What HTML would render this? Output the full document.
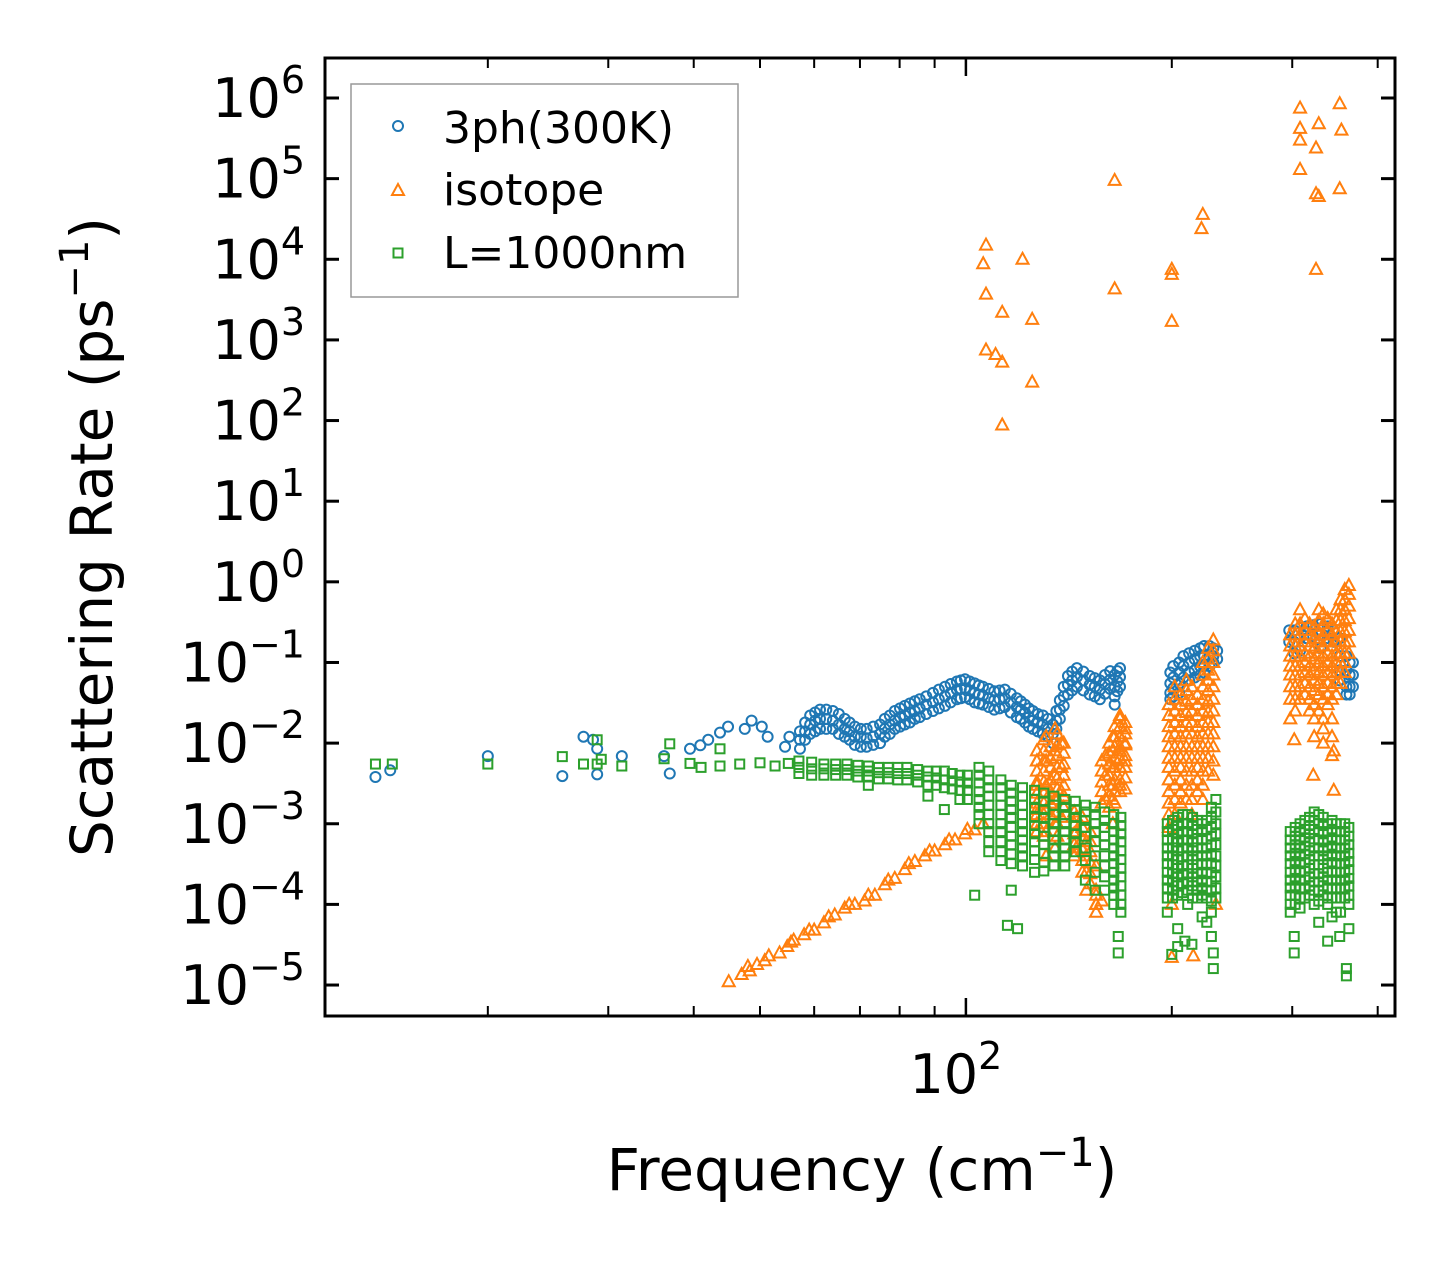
<!DOCTYPE html>
<html><head><meta charset="utf-8"><style>
html,body{margin:0;padding:0;background:#fff;}
svg text{font-family:"DejaVu Sans","Liberation Sans",sans-serif;fill:#000;}
</style></head><body>
<svg id="chart" width="1455" height="1265" viewBox="0 0 1455 1265" xmlns="http://www.w3.org/2000/svg">
<rect x="0" y="0" width="1455" height="1265" fill="#fff"/>
<g id="marks"></g>
<g id="axes"></g>
<text x="862" y="1190" font-size="58" text-anchor="middle">Frequency (cm<tspan font-size="40" dy="-24">−1</tspan><tspan dy="24">)</tspan></text>
<text transform="translate(112,537) rotate(-90)" font-size="58" text-anchor="middle">Scattering Rate (ps<tspan font-size="40" dy="-24">−1</tspan><tspan dy="24">)</tspan></text>
<g>
<rect x="351" y="84" width="387" height="213" fill="#fff" stroke="#999" stroke-width="1.5"/>
<circle cx="398" cy="126" r="5" fill="none" stroke="#1f77b4" stroke-width="2"/>
<text x="443" y="143" font-size="44">3ph(300K)</text>
<polygon points="398,184 404,195 392,195" fill="none" stroke="#ff7f0e" stroke-width="2"/>
<text x="443" y="205" font-size="44">isotope</text>
<rect x="393.5" y="248.5" width="9" height="9" fill="none" stroke="#2ca02c" stroke-width="2"/>
<text x="443" y="268" font-size="44">L=1000nm</text>
</g>
</svg>
<script>
// ---- data (frequency in cm^-1, rate in ps^-1) ----
const blueSparse = [[13.7,3.8e-3],[14.4,4.6e-3],[20,6.9e-3],[25.7,3.9e-3],[27.6,0.012],[28.5,0.011],[28.9,0.0085],[28.9,4.1e-3],[31.4,6.9e-3],[36.9,4.2e-3],[36.2,6.9e-3],[39.5,0.0085],[40.9,9.4e-3],[42,0.011],[43.7,0.0135],[44.9,0.016],[47.5,0.015],[48.6,0.019],[50.3,0.016],[51.3,0.012],[55.2,0.012],[54.4,0.009]];
const blueColumns = [
[57.2,[0.014,0.011,0.0085]],[59.2,[0.022,0.017,0.013]],[61.2,[0.026,0.02,0.015]],[63.9,[0.025,0.019,0.015]],
[66.5,[0.02,0.015,0.012]],[68.8,[0.016,0.012,0.0095]],[71.6,[0.015,0.0115,0.009]],[74.9,[0.017,0.013,0.010]],
[77.4,[0.022,0.017,0.013]],[80.1,[0.027,0.021,0.016]],[82.8,[0.031,0.024,0.018]],[85.6,[0.035,0.027,0.021]],
[89.5,[0.042,0.032,0.025]],[93.2,[0.05,0.038,0.029]],[97,[0.058,0.046,0.035]],[99.7,[0.062,0.048,0.037]],
[103,[0.055,0.042,0.032]],[105.9,[0.05,0.039,0.03]],[110,[0.044,0.034,0.026]],[114,[0.046,0.036,0.028]],
[118.7,[0.036,0.028,0.021]],[122,[0.03,0.024,0.018]],[125.3,[0.025,0.019,0.015]],[129.6,[0.022,0.017,0.013]],
[134,[0.017,0.013,0.01]],[137.2,[0.034,0.026,0.02]],[141,[0.068,0.053,0.04]],[145.3,[0.085,0.066,0.05]],
[151.7,[0.068,0.053,0.04]],[157,[0.06,0.046,0.035]],[162.5,[0.078,0.061,0.047]],[165,[0.07,0.05,0.038,0.03]],[168,[0.085,0.066,0.05]],
[199,[0.075,0.055,0.042,0.035]],[205,[0.1,0.075,0.055,0.042]],[212,[0.13,0.1,0.075,0.06]],[220,[0.15,0.12,0.09,0.07]],[227,[0.16,0.12,0.09]],[233,[0.14,0.11]],
[302,[0.25,0.18,0.13]],[315,[0.28,0.2]],[330,[0.3,0.22,0.15]],[345,[0.25,0.18]],[360,[0.12,0.08,0.05,0.04]],[368,[0.1,0.07,0.05]]];
const blueColumns2 = [
[58.2,[0.018,0.014,0.011]],[60.2,[0.024,0.019,0.014]],[62.5,[0.026,0.02,0.015]],[65.2,[0.023,0.017,0.013]],[67.6,[0.018,0.014,0.011]],
[70.2,[0.015,0.012,0.009]],[73.2,[0.016,0.012,0.0095]],[76.1,[0.02,0.015,0.012]],[78.7,[0.025,0.019,0.015]],[81.4,[0.029,0.022,0.017]],
[84.2,[0.033,0.025,0.02]],[87.5,[0.038,0.03,0.023]],[91.3,[0.046,0.035,0.027]],[95,[0.054,0.042,0.032]],[98.3,[0.06,0.047,0.036]],
[101.3,[0.058,0.045,0.035]],[104.5,[0.052,0.04,0.031]],[108,[0.047,0.036,0.028]],[112,[0.045,0.035,0.027]],[116.3,[0.041,0.032,0.024]],
[120.3,[0.033,0.026,0.02]],[123.6,[0.027,0.021,0.016]],[127.4,[0.023,0.018,0.014]],[131.8,[0.02,0.015,0.012]],[135.6,[0.025,0.019,0.015]],
[139,[0.05,0.038,0.029]],[143,[0.077,0.06,0.045]],[148.5,[0.077,0.06,0.045]],[154.3,[0.064,0.05,0.038]],[159.7,[0.07,0.054,0.041]],[166.5,[0.078,0.058,0.044]],
[201,[0.09,0.065,0.048,0.038]],[208,[0.12,0.09,0.065,0.05]],[216,[0.14,0.11,0.08,0.065]],[223,[0.16,0.12,0.09,0.075]],[230,[0.15,0.12,0.1]],
[297,[0.25,0.18]],[308,[0.27,0.2,0.14]],[322,[0.29,0.21]],[338,[0.28,0.2]],[352,[0.2,0.12,0.08,0.06]],[364,[0.1,0.07,0.05,0.04]]];
const orangeSparse = [[45,1.1e-5],[47,1.35e-5],[48.3,1.5e-5],[49.5,1.8e-5],[50.8,2e-5],[53.4,2.5e-5],[54.8,3e-5],[56,3.6e-5],[58,4.2e-5],[60,4.8e-5],[62,5.9e-5],[64.3,7.4e-5],[66.5,9e-5],[68.8,1e-4],[71.1,1.1e-4],[73.6,1.3e-4],[76.1,1.75e-4],[78.7,2.1e-4],[81.4,2.7e-4],[84.2,3.4e-4],[87.1,4e-4],[90,4.6e-4],[93.2,5.5e-4],[96.4,6.3e-4],[99.7,7.5e-4],[103,8.4e-4],
[48,1.7e-5],[51.5,2.3e-5],[55.5,3.4e-5],[59,4.8e-5],[63,7e-5],[67.5,1e-4],[72,1.3e-4],[77,2e-4],[82.5,3.2e-4],[88.5,4.6e-4],[94.5,6.3e-4],[100.5,8.5e-4],[106,1e-3],
[107,1.5e4],[106,8.8e3],[107,3.7e3],[113,2.2e3],[107,750],[110.5,660],[113,530],[113,88],[121,1e4],[125,1.8e3],[125,300],[165,9.5e4],[165,4.3e3],[200,7.5e3],[200,6.5e3],[200,1.7e3],[222,3.6e4],[221,2.4e4],
[308,7.5e5],[308,4.2e5],[308,3e5],[308,1.3e5],[328,4.8e5],[325,2.4e5],[325,6.5e4],[328,6e4],[325,7.5e3],[352,8.5e5],[354,4e5],[352,7.5e4]];
const orangeColumns = [
[127,[0.006,0.003,0.0015,8e-4]],[131,[0.012,0.006,0.003,0.0015,8e-4,4e-4]],[135,[0.015,0.008,0.004,0.002,1e-3,5e-4]],[138,[0.01,0.005,0.0025,0.0012]],
[145,[1.2e-3,8e-4,5e-4]],[150,[6e-4,4e-4,2.5e-4,1.5e-4]],[155,[3e-4,1.5e-4,1e-4]],[160,[0.007,0.004,0.002]],
[164,[0.012,0.008,0.005,0.003,0.002,0.001]],[168,[0.02,0.012,0.008,0.005,0.003]],[171,[0.015,0.01,0.006]],
[200,[1e-4,2.2e-5]],[215,[2.3e-5]],[232,[1e-4]],
[302,[0.011]],[322,[0.004]],[345,[0.008,0.0026]],[333,[0.015]]];
const orangeColumns2 = [
[127,[0.008,0.006,0.0045,0.0033,0.0024,0.0018,0.0013,0.001]],[130,[0.011,0.008,0.006,0.0045,0.0033,0.0024,0.0018,0.0013,0.001,7e-4]],
[133,[0.009,0.0065,0.005,0.0035,0.0025,0.0018,0.0013]],[136,[0.013,0.0095,0.007,0.005,0.0037,0.0027,0.002,0.0014,0.001,7e-4]],
[139,[0.01,0.0075,0.0055,0.004,0.003,0.0022,0.0016]],[144,[1.4e-3,1e-3,7.5e-4,5.5e-4,4e-4]],[148,[1.2e-3,9e-4,6.5e-4,4.8e-4,3.5e-4,2.5e-4]],
[152,[8e-4,6e-4,4.5e-4,3.3e-4,2.4e-4,1.8e-4]],[155,[1.3e-4,1e-4,8e-5]],[158,[0.006,0.0045,0.0033,0.0025,0.0018,1.1e-4]],
[162,[0.01,0.0075,0.0055,0.004,0.003,0.0022,0.0016]],[165,[0.016,0.012,0.009,0.0065,0.005,0.0035,0.0025,0.0018]],
[168,[0.022,0.016,0.012,0.009,0.0065,0.005,0.0035,0.0025]],[171,[0.018,0.013,0.0095,0.007,0.005,0.0037,0.0027]],
[198,[0.03,0.022,0.016,0.012,0.009,0.0065,0.005,0.0035,0.0025,0.0018,0.0013,9e-4]],
[202,[0.05,0.035,0.025,0.018,0.013,0.009,0.0065,0.0045,0.003,0.002,0.0013]],
[206,[0.04,0.03,0.022,0.016,0.012,0.009,0.0065,0.005,0.0035,0.0025,0.0018]],
[210,[0.06,0.045,0.033,0.024,0.018,0.013,0.009,0.0065,0.0045,0.003,0.002]],
[214,[0.05,0.035,0.025,0.018,0.013,0.009,0.0065,0.0045,0.003,0.002,0.0013]],
[218,[0.04,0.03,0.022,0.016,0.012,0.009,0.0065,0.005,0.0035,0.0025]],
[222,[0.1,0.07,0.05,0.035,0.025,0.018,0.013,0.009,0.0065,0.0045,0.003,0.002]],
[226,[0.15,0.11,0.08,0.06,0.045,0.033,0.024,0.018,0.013,0.009,0.0065,0.0045]],
[230,[0.19,0.14,0.1,0.07,0.05,0.035,0.025,0.018,0.013,0.009,0.006,0.004]],
[298,[0.22,0.16,0.12,0.09,0.07,0.05,0.035,0.02]],[303,[0.3,0.22,0.16,0.12,0.09,0.07,0.05,0.035,0.025]],
[308,[0.45,0.3,0.22,0.16,0.12,0.09,0.07,0.05,0.035]],[313,[0.35,0.25,0.18,0.13,0.1,0.075,0.055,0.04]],
[318,[0.3,0.22,0.16,0.12,0.09,0.07,0.05,0.035,0.025]],[323,[0.28,0.2,0.15,0.11,0.08,0.06,0.045,0.03,0.02,0.012]],
[328,[0.45,0.33,0.24,0.18,0.13,0.1,0.075,0.055,0.04,0.025]],[333,[0.4,0.3,0.22,0.16,0.12,0.09,0.07,0.05,0.035,0.02,0.01]],
[338,[0.35,0.25,0.18,0.13,0.1,0.075,0.055,0.04,0.03]],[343,[0.3,0.22,0.16,0.12,0.09,0.07,0.05,0.035,0.02,0.012,0.007]],
[348,[0.45,0.33,0.24,0.18,0.13,0.1,0.075,0.055,0.04]],[353,[0.6,0.45,0.33,0.24,0.18,0.13,0.1,0.075,0.055]],
[358,[0.8,0.6,0.45,0.33,0.24,0.18,0.13,0.1,0.075]],[363,[0.9,0.7,0.5,0.35,0.25,0.18,0.13]]];
const greenSparse = [[13.7,5.5e-3],[14.5,5.5e-3],[20,5.5e-3],[25.7,6.8e-3],[27.6,5.5e-3],[28.9,0.011],[28.9,5.5e-3],[29.3,6.3e-3],[31.4,5.2e-3],[36.2,6.4e-3],[36.9,0.0098],[39.5,5.6e-3],[41,5e-3],[43.7,5.2e-3],[43.7,8.5e-3],[46.7,5.5e-3],[50,5.7e-3],[52.6,5.2e-3],[55,5.6e-3],
[103,1.3e-4],[115,5.5e-5],[119,5e-5],[167,4e-5],[167,2.5e-5],[200,2.4e-5],[204,3e-5],[209,3.5e-5],[214,3.2e-5],[230,2.5e-5],[230,1.6e-5],[302,4e-5],[302,2.5e-5],[338,3.5e-5],[352,4e-5],[360,1.6e-5],[360,1.3e-5]];
const greenColumns = [
[57,[0.006,0.005,0.0042]],[62,[0.0055,0.0048,0.004]],[67,[0.0055,0.0047,0.004]],[72,[0.0052,0.0045,0.0038,0.003]],
[77,[0.005,0.0043,0.0036]],[82,[0.005,0.0042,0.0035]],[88,[0.0045,0.0038,0.003,0.0022]],[93,[0.0045,0.0035,0.0028,0.0015]],
[98,[0.004,0.0033,0.0026,0.002]],
[59.5,[0.0058,0.0048,0.004]],[64.5,[0.0055,0.0047,0.004]],[69.5,[0.0053,0.0045,0.0038]],[74.5,[0.005,0.0043,0.0036]],[79.5,[0.005,0.0042,0.0035]],
[85,[0.0047,0.004,0.0033]],[90.5,[0.0045,0.0037,0.003]],[95.5,[0.0042,0.0034,0.0027]],[100.5,[0.004,0.0032,0.0026,0.002]]];
const greenColumns2 = [
[104.5,[0.005,0.004,0.0032,0.0025,0.002,0.0016,0.0013,0.001]],[108,[0.0045,0.0035,0.0028,0.0022,0.0017,0.0013,0.001,8e-4,6e-4,4.5e-4]],
[112.5,[0.0035,0.0028,0.0022,0.0017,0.0013,0.001,8e-4,6e-4,4.5e-4,3.5e-4]],[116.5,[0.003,0.0024,0.0019,0.0015,0.0012,9e-4,7e-4,5.5e-4,4.2e-4,3.2e-4,1.5e-4]],
[121,[0.0028,0.0022,0.0017,0.0013,0.001,8e-4,6.3e-4,5e-4,4e-4,3e-4]],[126,[0.0026,0.002,0.0016,0.0012,9.5e-4,7.5e-4,6e-4,4.6e-4,3.6e-4,2.5e-4]],
[130,[0.0024,0.0019,0.0015,0.0012,9e-4,7e-4,5.5e-4,4.3e-4,3.3e-4,2.6e-4]],[134.5,[0.0022,0.0017,0.0013,0.001,8e-4,6.3e-4,5e-4,4e-4,3e-4]],
[139.5,[0.002,0.0016,0.0013,0.001,8e-4,6.3e-4,5e-4,4e-4,3e-4]],[144.5,[0.0019,0.0015,0.0012,9.5e-4,7.5e-4,6e-4,4.5e-4]],
[149.5,[0.0017,0.0014,0.0011,9e-4,7e-4,5e-4,3.5e-4,2e-4]],[154.5,[0.0016,0.0013,0.001,8e-4,6e-4,4e-4,2.5e-4,1.5e-4]],
[159.5,[0.0014,0.0011,9e-4,7e-4,5.5e-4,4e-4,3e-4,2.2e-4,1.5e-4]],[164.5,[0.0013,0.001,8e-4,6.3e-4,5e-4,4e-4,3.2e-4,2.5e-4,2e-4,1.6e-4,1.3e-4,1e-4]],
[168.5,[0.0012,9.5e-4,7.5e-4,6e-4,4.6e-4,3.6e-4,2.8e-4,2.2e-4,1.7e-4,1.3e-4,1e-4,8e-5]],
[197,[1e-3,8e-4,6.3e-4,5e-4,4e-4,3.2e-4,2.5e-4,2e-4,1.6e-4,1.2e-4,8e-5]],[200.5,[1.1e-3,8.5e-4,6.5e-4,5e-4,4e-4,3.1e-4,2.4e-4,1.9e-4,1.5e-4,1.2e-4]],
[204,[1.2e-3,9.5e-4,7.5e-4,6e-4,4.6e-4,3.6e-4,2.8e-4,2.2e-4,1.7e-4,1.3e-4,5e-5]],[207.5,[1.3e-3,1e-3,8e-4,6.3e-4,5e-4,3.9e-4,3e-4,2.4e-4,1.8e-4,1.4e-4]],
[211,[1.3e-3,1e-3,8e-4,6.3e-4,5e-4,4e-4,3.1e-4,2.4e-4,1.9e-4,1.5e-4,1e-4]],[214.5,[1.2e-3,9.5e-4,7.5e-4,6e-4,4.6e-4,3.6e-4,2.8e-4,2.2e-4,1.7e-4,1.2e-4]],
[218,[1.1e-3,8.5e-4,6.5e-4,5e-4,4e-4,3.1e-4,2.4e-4,1.9e-4,1.5e-4,1.2e-4]],[221.5,[1e-3,8e-4,6.3e-4,5e-4,4e-4,3.2e-4,2.5e-4,2e-4,1.6e-4,1.3e-4,7e-5]],
[225,[1.1e-3,8.5e-4,6.5e-4,5e-4,4e-4,3.1e-4,2.4e-4,1.9e-4,1.5e-4,1.2e-4,6e-5]],[228.5,[1.6e-3,1.2e-3,9e-4,7e-4,5.5e-4,4.2e-4,3.2e-4,2.5e-4,1.9e-4,1.5e-4,1.1e-4,8e-5,4e-5]],
[232,[2e-3,1.4e-3,1e-3,7.5e-4,5.5e-4,4e-4,3e-4,2.2e-4,1.6e-4,1.2e-4]],
[298,[8e-4,6.3e-4,5e-4,4e-4,3.2e-4,2.5e-4,2e-4,1.6e-4,1.3e-4,1e-4,8e-5]],[303,[9e-4,7e-4,5.5e-4,4.3e-4,3.4e-4,2.7e-4,2.1e-4,1.7e-4,1.3e-4,1e-4]],
[308,[1e-3,8e-4,6.3e-4,5e-4,4e-4,3.2e-4,2.5e-4,2e-4,1.6e-4,1.2e-4,9e-5]],[313,[1.1e-3,8.5e-4,6.7e-4,5.3e-4,4.2e-4,3.3e-4,2.6e-4,2e-4,1.6e-4,1.2e-4]],
[318,[1.2e-3,9.5e-4,7.5e-4,6e-4,4.6e-4,3.6e-4,2.8e-4,2.2e-4,1.7e-4,1.3e-4]],[323,[1.4e-3,1.1e-3,8.5e-4,6.5e-4,5e-4,4e-4,3.1e-4,2.4e-4,1.9e-4,1.5e-4,1e-4]],
[328,[1.3e-3,1e-3,8e-4,6.3e-4,5e-4,4e-4,3.1e-4,2.4e-4,1.9e-4,1.5e-4,1.1e-4,6e-5]],[333,[1.2e-3,9.5e-4,7.5e-4,6e-4,4.6e-4,3.6e-4,2.8e-4,2.2e-4,1.7e-4,1.3e-4]],
[338,[1e-3,8e-4,6.3e-4,5e-4,4e-4,3.2e-4,2.5e-4,2e-4,1.6e-4,1.2e-4,1e-4]],[343,[1.1e-3,8.5e-4,6.7e-4,5.3e-4,4.2e-4,3.3e-4,2.6e-4,2e-4,1.6e-4,1.2e-4,7e-5]],
[348,[1e-3,8e-4,6.3e-4,5e-4,4e-4,3.2e-4,2.5e-4,2e-4,1.6e-4,1.2e-4,8e-5]],[353,[1e-3,8e-4,6.3e-4,5e-4,4e-4,3.2e-4,2.5e-4,2e-4,1.6e-4,1.2e-4,8e-5]],
[358,[1e-3,8e-4,6.3e-4,5e-4,4e-4,3.2e-4,2.5e-4,2e-4,1.6e-4,1.2e-4]],[363,[9e-4,7e-4,5.5e-4,4.3e-4,3.4e-4,2.7e-4,2.1e-4,1.7e-4,1.3e-4,1e-4,5e-5]]];
const yTickExps = [-5,-4,-3,-2,-1,0,1,2,3,4,5,6];
const xMajorTicks = [100];
const xMinorTicks = [20,30,40,50,60,70,80,90,200,300,400];

// ---- axes geometry ----
const L=325,R=1395,T=58,B=1016;
const xmin=Math.log10(11.56), xmax=Math.log10(424);
const ymin=-5.384, ymax=6.496;
function xs(f){return L+(Math.log10(f)-xmin)/(xmax-xmin)*(R-L);}
function ys(v){return B-(Math.log10(v)-ymin)/(ymax-ymin)*(B-T);}
const NS="http://www.w3.org/2000/svg";
const marks=document.getElementById('marks');
const axes=document.getElementById('axes');
function mk(tag,attrs,parent){const e=document.createElementNS(NS,tag);for(const k in attrs)e.setAttribute(k,attrs[k]);parent.appendChild(e);return e;}

function flatten(sparse,colSets){const out=sparse.slice();colSets.forEach(cols=>cols.forEach(c=>c[1].forEach(v=>out.push([c[0],v]))));return out;}
function drawSeries(pts,kind,color){
  const g=mk('g',{},marks);
  
  
  pts.forEach(p=>{
    const x=xs(p[0]),y=ys(p[1]);
    if(x<L||x>R||y<T||y>B)return;
    let e;
    if(kind==='3ph'){e=mk('circle',{cx:x,cy:y,r:5,fill:'none',stroke:color,'stroke-width':2},g);}
    else if(kind==='isotope'){e=mk('polygon',{points:`${x},${y-6.5} ${x+6},${y+4.5} ${x-6},${y+4.5}`,fill:'none',stroke:color,'stroke-width':2},g);}
    else {e=mk('rect',{x:x-4.5,y:y-4.5,width:9,height:9,fill:'none',stroke:color,'stroke-width':2},g);}
    
    
  });
}
drawSeries(flatten(blueSparse,[blueColumns,blueColumns2]),'3ph','#1f77b4');
drawSeries(flatten(orangeSparse,[orangeColumns,orangeColumns2]),'isotope','#ff7f0e');
drawSeries(flatten(greenSparse,[greenColumns,greenColumns2]),'boundary','#2ca02c');

// frame
const frame=mk('rect',{x:L,y:T,width:R-L,height:B-T,fill:'none',stroke:'#000','stroke-width':3},axes);


yTickExps.forEach(e=>{
  const y=ys(Math.pow(10,e));
  const t1=mk('line',{x1:L,x2:L+14,y1:y,y2:y,stroke:'#000','stroke-width':3},axes);
  
  
  const t2=mk('line',{x1:R,x2:R-14,y1:y,y2:y,stroke:'#000','stroke-width':3},axes);
  
  
  const tx=mk('text',{x:L-20,y:y+19,'font-size':54,'text-anchor':'end'},axes);
  
  
  tx.innerHTML='10<tspan font-size="38" dy="-24">'+(e<0?'−'+(-e):e)+'</tspan>';
});
xMajorTicks.forEach(f=>{
  const x=xs(f);
  const a=mk('line',{x1:x,x2:x,y1:B,y2:B-18,stroke:'#000','stroke-width':2.5},axes);
  
  
  const b=mk('line',{x1:x,x2:x,y1:T,y2:T+18,stroke:'#000','stroke-width':2.5},axes);
  
  
  const tx=mk('text',{x:x-10,y:1093,'font-size':54,'text-anchor':'middle'},axes);
  
  
  tx.innerHTML='10<tspan font-size="38" dy="-24">'+Math.round(Math.log10(f))+'</tspan>';
});
xMinorTicks.forEach(f=>{
  const x=xs(f);
  const a=mk('line',{x1:x,x2:x,y1:B,y2:B-10,stroke:'#000','stroke-width':2},axes);
  
  
  const b=mk('line',{x1:x,x2:x,y1:T,y2:T+10,stroke:'#000','stroke-width':2},axes);
  
  
});
</script>
</body></html>
